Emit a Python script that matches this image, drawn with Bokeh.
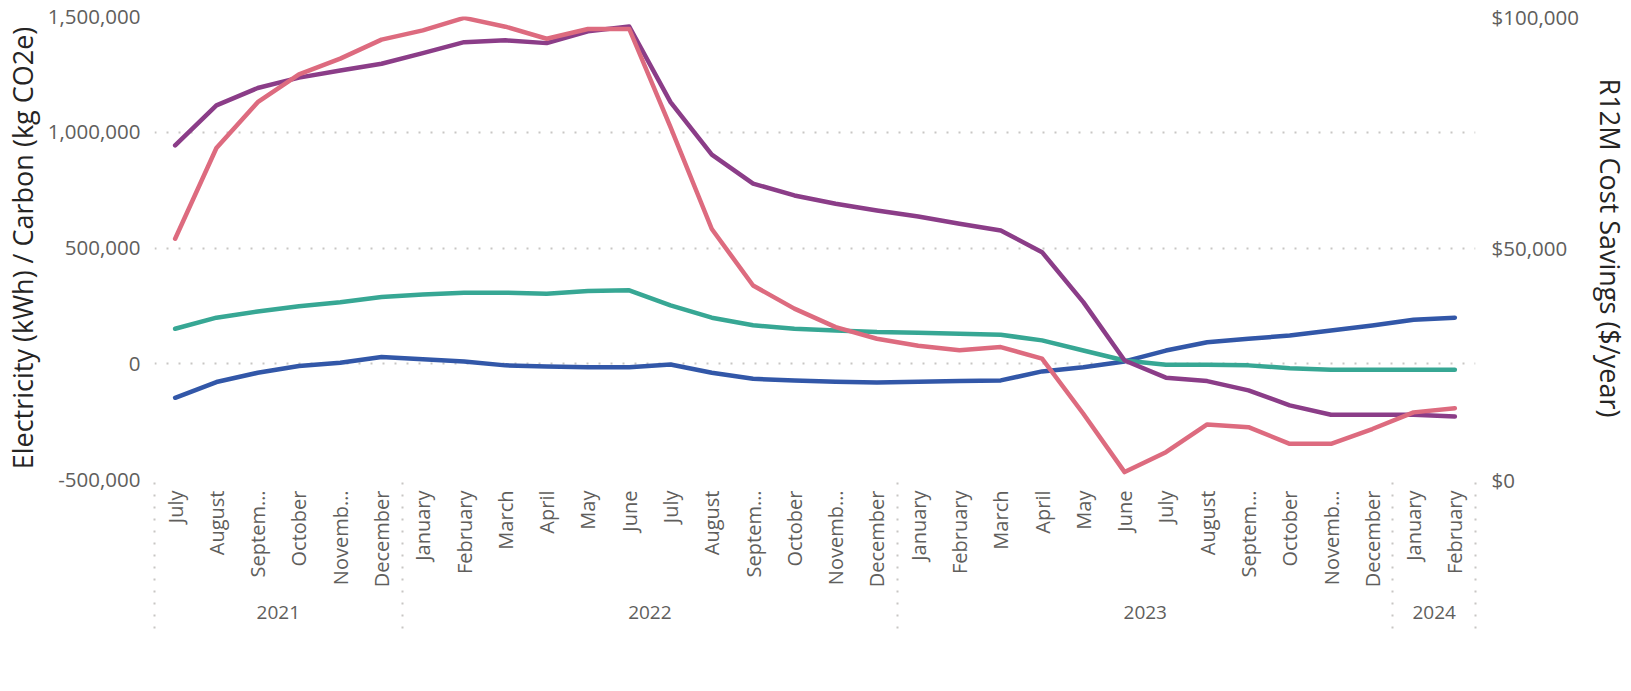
import math
from bokeh.plotting import figure
from bokeh.models import (Range1d, LinearAxis, FixedTicker, NumeralTickFormatter,
                          Legend, LegendItem, ColumnDataSource)
from bokeh.embed import file_html
from bokeh.resources import INLINE

# ---------------- data ----------------
month_labels = ["July", "August", "Septem…", "October", "Novemb…", "December",
                "January", "February", "March", "April", "May", "June",
                "July", "August", "Septem…", "October", "Novemb…", "December",
                "January", "February", "March", "April", "May", "June",
                "July", "August", "Septem…", "October", "Novemb…", "December",
                "January", "February"]
point_years = (["2021"] * 6) + (["2022"] * 12) + (["2023"] * 12) + (["2024"] * 2)

elec = [-147000, -79000, -39000, -10000, 4000, 29000, 19000, 10000, -7000, -12000,
        -15000, -15000, -3000, -39000, -65000, -72000, -78000, -81000, -78000, -75000,
        -72000, -33000, -15000, 10000, 57000, 93000, 108000, 122000, 144000, 165000,
        190000, 199000]
co2 = [151000, 199000, 226000, 248000, 266000, 288000, 299000, 307000, 307000, 302000,
       314000, 317000, 252000, 199000, 166000, 151000, 144000, 137000, 134000, 130000,
       125000, 101000, 57000, 14000, -4000, -4000, -7000, -19000, -26000, -26000,
       -26000, -26000]
gas = [943000, 1116000, 1191000, 1236000, 1267000, 1296000, 1342000, 1389000, 1397000, 1385000,
       1436000, 1457000, 1130000, 903000, 778000, 727000, 691000, 662000, 636000, 605000,
       576000, 482000, 266000, 14000, -60000, -75000, -115000, -180000, -220000, -220000,
       -220000, -228000]
cost = [52000, 71600, 81500, 87500, 90900, 95000, 97000, 99700, 97800, 95200,
        97300, 97300, 76100, 54100, 41900, 36900, 32900, 30400, 28900, 27900,
        28600, 26100, 14200, 1600, 5900, 11900, 11300, 7700, 7700, 10900,
        14500, 15400]

series_names = ["R12M Electricity Savings (kWh/year)", "R12M CO2 Savings (kgCO2e/year)",
                "R12M Gas Savings (kWh/year)", "R12M Cost Savings ($/year)"]
left_ticks = [-500000, 0, 500000, 1000000, 1500000]
right_ticks = [0, 50000, 100000]
left_title = "Electricity (kWh) / Carbon (kg CO2e)"
right_title = "R12M Cost Savings ($/year)"

# ---------------- style ----------------
FONT = "Open Sans"
COLORS = ["#3257A8", "#37A794", "#8B3D88", "#DD6B7F"]
GRID = "#C8C6C4"
LABEL = "#605E5C"
TITLE = "#252423"

n = len(month_labels)
x = list(range(n))
src = ColumnDataSource(dict(x=x, elec=elec, co2=co2, gas=gas, cost=cost))

p = figure(frame_width=1321, frame_height=463,
           x_range=Range1d(-0.5, n - 0.5),
           y_range=Range1d(left_ticks[0], left_ticks[-1]),
           output_backend="svg", toolbar_location=None,
           min_border_left=143, min_border_right=151, min_border_top=16, min_border_bottom=0)
p.extra_y_ranges = {"cost": Range1d(right_ticks[0], right_ticks[-1])}
p.outline_line_color = None
p.background_fill_color = "white"
p.border_fill_color = "white"

p.xgrid.visible = False
p.ygrid.ticker = FixedTicker(ticks=left_ticks)
p.ygrid.grid_line_color = GRID
p.ygrid.grid_line_dash = "2 10"
p.ygrid.grid_line_width = 2


def plain(ax):
    ax.axis_line_color = None
    ax.major_tick_line_color = None
    ax.minor_tick_line_color = None
    ax.major_tick_out = 0
    ax.major_tick_in = 0
    ax.minor_tick_out = 0
    ax.minor_tick_in = 0


def style_title(ax):
    ax.axis_label_text_font = FONT
    ax.axis_label_text_font_size = "27px"
    ax.axis_label_text_font_style = "normal"
    ax.axis_label_text_color = TITLE


# left axis
ya = p.yaxis[0]
ya.ticker = FixedTicker(ticks=left_ticks)
ya.formatter = NumeralTickFormatter(format="0,0")
ya.axis_label = left_title
plain(ya)
style_title(ya)
ya.major_label_text_font = FONT
ya.major_label_text_font_size = "20.5px"
ya.major_label_text_color = LABEL
ya.major_label_standoff = 14
ya.axis_label_standoff = 4

# right axis
ra = LinearAxis(y_range_name="cost", ticker=FixedTicker(ticks=right_ticks),
                formatter=NumeralTickFormatter(format="$0,0"), axis_label=right_title)
plain(ra)
style_title(ra)
ra.major_label_text_font = FONT
ra.major_label_text_font_size = "20.5px"
ra.major_label_text_color = LABEL
ra.major_label_standoff = 16
ra.axis_label_standoff = 10
p.add_layout(ra, "right")

# year groups
year_names = []
for yv in point_years:
    if yv not in year_names:
        year_names.append(yv)
bounds = [-0.5]
centers = []
for yv in year_names:
    idx = [i for i, v in enumerate(point_years) if v == yv]
    centers.append((idx[0] + idx[-1]) / 2)
    bounds.append(idx[-1] + 0.5)

# month axis (its minor ticks draw the dotted year separators)
xa = p.xaxis[0]
xa.ticker = FixedTicker(ticks=x, minor_ticks=bounds)
xa.major_label_overrides = {i: m for i, m in zip(x, month_labels)}
xa.major_label_orientation = math.pi / 2
plain(xa)
xa.minor_tick_out = 149
xa.minor_tick_line_color = GRID
xa.minor_tick_line_dash = "2 10"
xa.minor_tick_line_width = 2
xa.major_label_standoff = 11 - 149
xa.major_label_text_font = FONT
xa.major_label_text_font_size = "20px"
xa.major_label_text_color = LABEL

# year axis
yr = LinearAxis(ticker=FixedTicker(ticks=centers),
                major_label_overrides={c: yv for c, yv in zip(centers, year_names)})
plain(yr)
yr.major_label_standoff = 15
yr.major_label_text_font = FONT
yr.major_label_text_font_size = "19px"
yr.major_label_text_color = LABEL
p.add_layout(yr, "below")

# lines (+ invisible markers that give the legend its round swatches)
cols = ["elec", "co2", "gas", "cost"]
items = []
for col, name, color in zip(cols, series_names, COLORS):
    kw = {"y_range_name": "cost"} if col == "cost" else {}
    dot = p.scatter(x="x", y=col, source=src, size=0, marker="circle",
                    fill_color=color, line_color=None, **kw)
    p.line(x="x", y=col, source=src, line_color=color, line_width=4.5,
           line_cap="round", line_join="round", **kw)
    items.append(LegendItem(label=name, renderers=[dot]))

legend = Legend(items=items, orientation="horizontal", location="center",
                glyph_width=45, glyph_height=45, label_standoff=-11, spacing=8,
                padding=0, margin=11, border_line_color=None,
                background_fill_alpha=0,
                label_text_font=FONT, label_text_font_size="22px",
                label_text_color=LABEL)
p.add_layout(legend, "below")

open("out.html", "w").write(file_html(p, INLINE))
